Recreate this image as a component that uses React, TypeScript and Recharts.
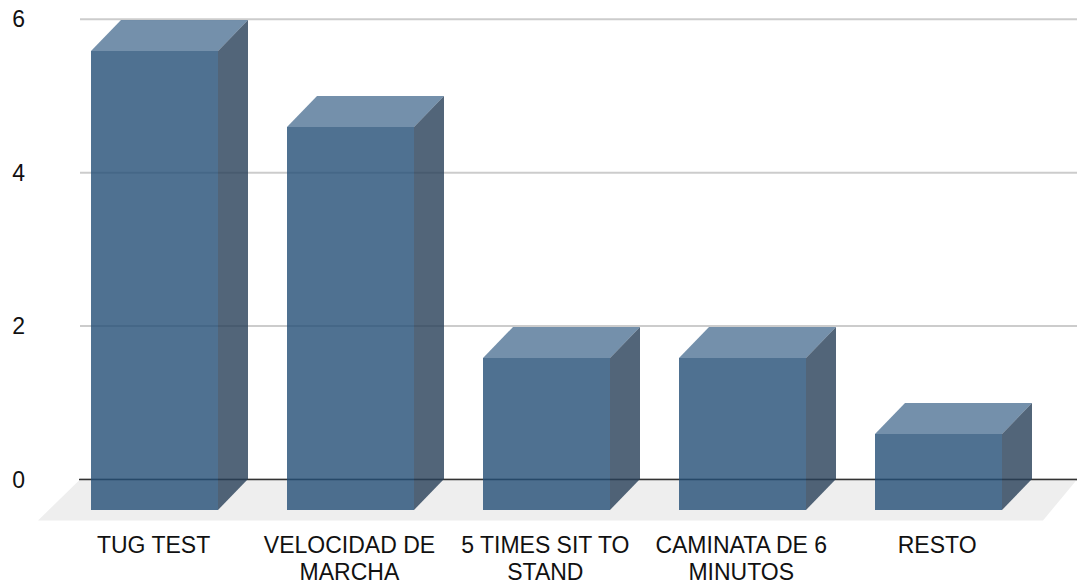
import React from "react";
import { BarChart, Bar, XAxis, YAxis, CartesianGrid, ReferenceArea } from "recharts";

const categories = ["TUG TEST", "VELOCIDAD DE MARCHA", "5 TIMES SIT TO STAND", "CAMINATA DE 6 MINUTOS", "RESTO"];
const values = [6, 5, 2, 2, 1];
const yTicks = [0, 2, 4, 6];
const rows = categories.map((name, i) => ({ name, value: values[i] }));

const FONT = "'Liberation Sans', Arial, sans-serif";
const DX = 30;
const DY = 31;
const ALPHA = 0.8;
const PAD_LEFT = 7.1;
const PAD_RIGHT = 10.4;

function wrap(label: string, limit = 14): string[] {
  const lines: string[] = [];
  let current = "";
  for (const word of label.split(" ")) {
    const next = current ? current + " " + word : word;
    if (next.length > limit) {
      lines.push(current);
      current = word;
    } else current = next;
  }
  lines.push(current);
  return lines;
}

const CategoryTick = (props: any) => {
  const { x, payload } = props;
  return (
    <text x={x - 31.5} textAnchor="middle" fontFamily={FONT} fontSize={23} fill="#111">
      {wrap(payload.value).map((line, i) => (
        <tspan key={i} x={x - 31.5} y={553 + i * 27}>{line}</tspan>
      ))}
    </text>
  );
};

const Box3D = (props: any) => {
  const w = Math.round(props.width);
  const x = Math.round(props.x);
  const y = Math.ceil(props.y);
  const h = Math.floor(props.y + props.height) - y;
  const pts = (a: number[][]) => a.map((p) => p.join(",")).join(" ");
  return (
    <g fillOpacity={ALPHA}>
      <polygon
        fill="#517496"
        points={pts([[x - DX, y + DY], [x, y], [x + w, y], [x + w - DX, y + DY]])}
      />
      <polygon
        fill="#273F58"
        points={pts([[x + w - DX, y + DY], [x + w, y], [x + w, y + h], [x + w - DX, y + h + DY]])}
      />
      <rect fill="#234E76" x={x - DX} y={y + DY} width={w} height={h} />
    </g>
  );
};

const Floor = (props: any) => {
  const { x, y, width: w, height: h } = props;
  const base = y + h;
  const left = x - PAD_LEFT;
  const right = x + w + PAD_RIGHT;
  const pts = [
    [left, base],
    [right, base],
    [right - 34, base + 41],
    [left - 42, base + 41],
  ]
    .map((p) => p.join(","))
    .join(" ");
  return (
    <g>
      <polygon points={pts} fill="#eeeeee" />
      <line x1={left - 1} x2={right} y1={base} y2={base} stroke="#333333" strokeWidth={1.5} />
    </g>
  );
};

export default function App() {
  return (
    <div style={{ position: "absolute", left: 0, top: 0, width: 1077, height: 584, overflow: "hidden" }}>
      <BarChart
        width={1077}
        height={584}
        data={rows}
        margin={{ top: 19.2, right: 0, bottom: 0, left: 0 }}
        barSize={127}
      >
        <CartesianGrid vertical={false} stroke="#cccccc" strokeWidth={2} />
        <ReferenceArea y1={0} y2={1} shape={Floor} fill="none" stroke="none" />
        <XAxis
          dataKey="name"
          interval={0}
          axisLine={false}
          tickLine={false}
          padding={{ left: PAD_LEFT, right: PAD_RIGHT }}
          tick={CategoryTick}
          height={104.5}
        />
        <YAxis
          width={80}
          domain={[0, 6]}
          ticks={yTicks}
          axisLine={false}
          tickLine={false}
          tickSize={0}
          tickMargin={55}
          tick={{ fontFamily: FONT, fontSize: 23, fill: "#111" }}
        />
        <Bar dataKey="value" shape={Box3D} isAnimationActive={false} activeBar={false} />
      </BarChart>
    </div>
  );
}
